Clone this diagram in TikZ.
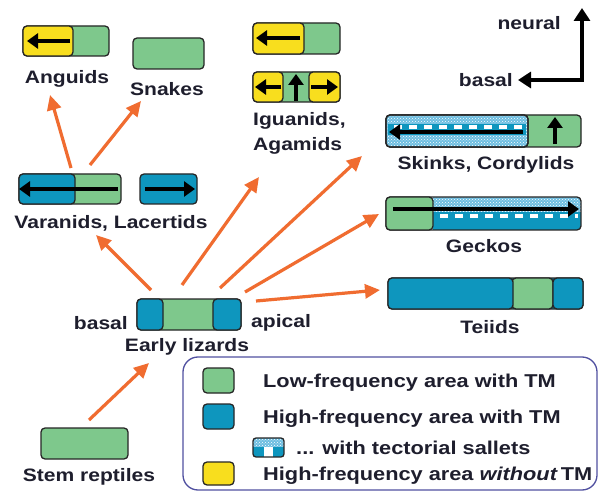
\documentclass[tikz,border=0pt]{standalone}
\usepackage{fontspec}
\setmainfont[FakeStretch=1.17]{Liberation Sans}
\usetikzlibrary{arrows.meta,patterns}
\definecolor{lfgreen}{RGB}{126,200,140}
\definecolor{hfblue}{RGB}{14,150,190}
\definecolor{hfyellow}{RGB}{248,222,30}
\definecolor{evoorange}{RGB}{240,108,48}
\definecolor{txt}{RGB}{30,30,45}
\definecolor{legborder}{RGB}{80,80,160}
\definecolor{dotblue}{RGB}{110,190,225}
\begin{document}
\begin{tikzpicture}[x=1pt,y=-1pt,
  seg/.style={draw=black!85, line width=1.3pt, rounded corners=4pt},
  lbl/.style={text=txt, font=\fontsize{18}{25}\selectfont\bfseries, inner sep=0pt},
  leg/.style={text=txt, font=\fontsize{18.6}{22}\selectfont\bfseries, inner sep=0pt, anchor=west},
  inarr/.style={line width=3.6pt, -{Triangle[length=11pt,width=15pt]}},
  evo/.style={draw=evoorange, line width=3.2pt, -{Triangle[length=15pt,width=14pt]}},
  dotfill/.style={preaction={fill=dotblue}, pattern=crosshatch dots, pattern color=white},
  axisarr/.style={line width=3.4pt, -{Triangle[length=13pt,width=16pt]}},
  wdash/.style={white, line width=3.4pt, dash pattern=on 8pt off 7pt},
]
\useasboundingbox (0,0) rectangle (603,492);
\fill[white] (0,0) rectangle (603,492);

% ---------- Anguids ----------
\draw[seg, fill=lfgreen] (23,26) rectangle (109,56);
\draw[seg, fill=hfyellow] (23,26) rectangle (73,56);
\draw[inarr] (70,41) -- (27,41);
\node[lbl] (anguids) at (67,79) {Anguids};

% ---------- Snakes ----------
\draw[seg, fill=lfgreen] (133,38) rectangle (204,69);
\node[lbl] (snakes) at (167,89) {Snakes};

% ---------- Varanids, Lacertids ----------
\draw[seg, fill=lfgreen] (19,174) rectangle (121,204);
\draw[seg, fill=hfblue] (19,174) rectangle (75,204);
\draw[inarr] (118,189) -- (19,189);
\draw[seg, fill=hfblue] (140,174) rectangle (197,204);
\draw[inarr] (145,189) -- (195,189);
\node[lbl] (varanids) at (111,223) {Varanids, Lacertids};

% ---------- Iguanids, Agamids ----------
\draw[seg, fill=lfgreen] (253,23) rectangle (340,54);
\draw[seg, fill=hfyellow] (253,23) rectangle (304,54);
\draw[inarr] (300,38) -- (256,38);
\draw[seg, fill=lfgreen] (253,72) rectangle (340,102);
\draw[seg, fill=hfyellow] (253,72) rectangle (283,102);
\draw[seg, fill=hfyellow] (309,72) rectangle (340,102);
\draw[inarr] (281,87) -- (255,87);
\draw[inarr] (296,101) -- (296,74);
\draw[inarr] (311,87) -- (338,87);
\node[lbl, align=left, anchor=west] (iguanids) at (253,133) {Iguanids,\\Agamids};

% ---------- axis ----------
\coordinate (corner) at (582,80);
\coordinate (neuraltip) at (582,8);
\coordinate (basaltip) at (518,80);
\draw[axisarr] ([yshift=1.7pt]corner) -- (neuraltip);
\draw[axisarr] ([xshift=1.7pt]corner) -- (basaltip);
\node[lbl, anchor=east] (neural) at (561,23) {neural};
\node[lbl, anchor=east] (basalax) at (513,80) {basal};

% ---------- Skinks, Cordylids ----------
\draw[seg, fill=lfgreen] (386,115) rectangle (581,147);
\draw[seg, dotfill] (386,115) rectangle (528,147);
\fill[hfblue] (388,124) rectangle (526,135);
\draw[wdash] (394,127) -- (524,127);
\draw[inarr] (523,132) -- (389,132);
\draw[inarr] (555,144) -- (555,117);
\draw[seg] (386,115) rectangle (528,147);
\node[lbl] (skinks) at (486,165) {Skinks, Cordylids};

% ---------- Geckos ----------
\begin{scope}
\clip[rounded corners=4pt] (386,197) rectangle (581,230);
\fill[dotblue] (433,197) rectangle (581,230);
\fill[pattern=crosshatch dots, pattern color=white] (433,197) rectangle (581,213);
\fill[hfblue] (433,212) rectangle (581,230);
\draw[wdash] (440,216) -- (578,216);
\end{scope}
\draw[seg] (386,197) rectangle (581,230);
\draw[seg, fill=lfgreen] (386,197) rectangle (433,230);
\draw[inarr] (393,209) -- (579,209);
\node[lbl] (geckos) at (484,246) {Geckos};

% ---------- Teiids ----------
\draw[seg, fill=hfblue] (388,278) rectangle (583,309);
\draw[seg, fill=lfgreen] (512,278) rectangle (553,309);
\draw[seg, fill=hfblue] (553,278) rectangle (583,309);
\draw[seg, fill=hfblue] (388,278) rectangle (513,309);
\node[lbl] (teiids) at (490,327) {Teiids};

% ---------- Early lizards ----------
\draw[seg, fill=lfgreen] (137,299) rectangle (241,330);
\draw[seg, fill=hfblue] (137,299) rectangle (163,330);
\draw[seg, fill=hfblue] (213,299) rectangle (241,330);
\node[lbl, anchor=east] (basal) at (128,323) {basal};
\node[lbl, anchor=west] (apical) at (251,323) {apical};
\node[lbl] (early) at (187,347) {Early lizards};

% ---------- Stem reptiles ----------
\draw[seg, fill=lfgreen] (41,428) rectangle (128,459);
\node[lbl] (stem) at (89,477) {Stem reptiles};

% ---------- evolutionary arrows ----------
\coordinate (stemtail) at (89,420);
\coordinate (earlyin) at (149,363);
\coordinate (e1) at (151,290);
\coordinate (e2) at (182,285);
\coordinate (e3) at (220,288);
\coordinate (e4) at (245,292);
\coordinate (e5) at (256,301);
\coordinate (varin) at (96,235);
\coordinate (iguin) at (259,177);
\coordinate (skin) at (362,156);
\coordinate (geckin) at (379,214);
\coordinate (teiin) at (380,290);
\coordinate (v1) at (71,168);
\coordinate (v2) at (90,165);
\coordinate (angin) at (50,95);
\coordinate (snakin) at (141,101);
\draw[evo] (stemtail) -- (earlyin);
\draw[evo] (e1) -- (varin);
\draw[evo] (e2) -- (iguin);
\draw[evo] (e3) -- (skin);
\draw[evo] (e4) -- (geckin);
\draw[evo] (e5) -- (teiin);
\draw[evo] (v1) -- (angin);
\draw[evo] (v2) -- (snakin);

% ---------- Legend ----------
\draw[legborder, line width=1.3pt, rounded corners=15pt] (183,357) rectangle (597,490);
\draw[seg, fill=lfgreen] (203,368) rectangle (234,393);
\draw[seg, fill=hfblue] (203,404) rectangle (234,429);
\begin{scope}
\clip[rounded corners=3pt] (253,438) rectangle (284,457);
\fill[dotblue] (253,438) rectangle (284,457);
\fill[pattern=crosshatch dots, pattern color=white] (253,438) rectangle (284,447);
\fill[hfblue] (253,447) rectangle (284,457);
\fill[white] (264,447) rectangle (273,457);
\end{scope}
\draw[seg, rounded corners=3pt] (253,438) rectangle (284,457);
\draw[seg, fill=hfyellow] (203,462) rectangle (234,485);
\node[leg] (l1) at (263,383) {Low-frequency area with TM};
\node[leg] (l2) at (263,419) {High-frequency area with TM};
\node[leg] (l3) at (296,448) {... with tectorial sallets};
\node[leg] (l4) at (263,476) {High-frequency area \textit{without}\,TM};
\end{tikzpicture}
\end{document}
